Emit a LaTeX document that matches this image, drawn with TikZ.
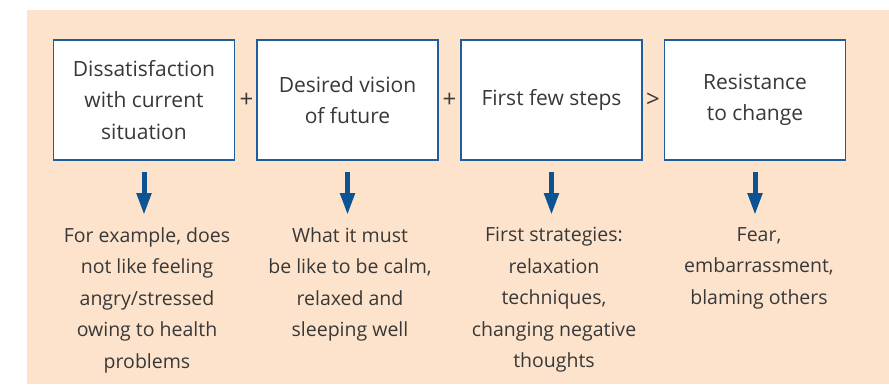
\documentclass[tikz,border=0pt]{standalone}
\usepackage{fontspec}
\setmainfont{Open Sans}
\usetikzlibrary{arrows.meta}
\definecolor{peach}{HTML}{FDE3CC}
\definecolor{boxblue}{HTML}{1F5E9E}
\definecolor{arrblue}{HTML}{0C5393}
\definecolor{txt}{HTML}{383838}
\tikzset{
  stagebox/.style={draw=boxblue, line width=1.3pt, fill=white, minimum width=181pt, minimum height=120pt, inner sep=0pt, align=center, text=txt, font=\fontsize{21}{31.5}\selectfont},
  op/.style={text=txt, font=\fontsize{24}{26}\selectfont, inner sep=0pt},
  note/.style={text=txt, align=center, anchor=north, inner sep=0pt, font=\fontsize{19.5}{31.5}\selectfont},
  downarrow/.style={draw=arrblue, line width=5pt, -{Triangle[length=22pt,width=14pt]}}
}
\begin{document}
\begin{tikzpicture}[x=1pt,y=-1pt]
\useasboundingbox (0,0) rectangle (889,384);
\fill[peach] (27,10) rectangle (889,384);
\node[stagebox] (b1) at (144,100) {Dissatisfaction\\with current\\situation};
\node[stagebox] (b2) at (347.5,100) {Desired vision\\of future};
\node[stagebox] (b3) at (551.5,100) {First few steps};
\node[stagebox] (b4) at (755,100) {Resistance\\to change};
\node[op] (o1) at (246.5,100.5) {+};
\node[op] (o2) at (449.5,100.5) {+};
\node[op] (o3) at (653,100.5) {>};
\coordinate (t1) at (144,215);
\coordinate (t2) at (347.5,215);
\coordinate (t3) at (551.5,215);
\coordinate (t4) at (755,215);
\draw[downarrow] (b1.south) ++(0,11) -- (t1);
\draw[downarrow] (b2.south) ++(0,11) -- (t2);
\draw[downarrow] (b3.south) ++(0,11) -- (t3);
\draw[downarrow] (b4.south) ++(0,11) -- (t4);
\node[note] (n1) at (147,227) {For example, does\\not like feeling\\angry/stressed\\owing to health\\problems};
\node[note] (n2) at (350,227) {What it must\\be like to be calm,\\relaxed and\\sleeping well};
\node[note] (n3) at (554,227) {First strategies:\\relaxation\\techniques,\\changing negative\\thoughts};
\node[note] (n4) at (759,227) {Fear,\\embarrassment,\\blaming others};
\end{tikzpicture}
\end{document}
